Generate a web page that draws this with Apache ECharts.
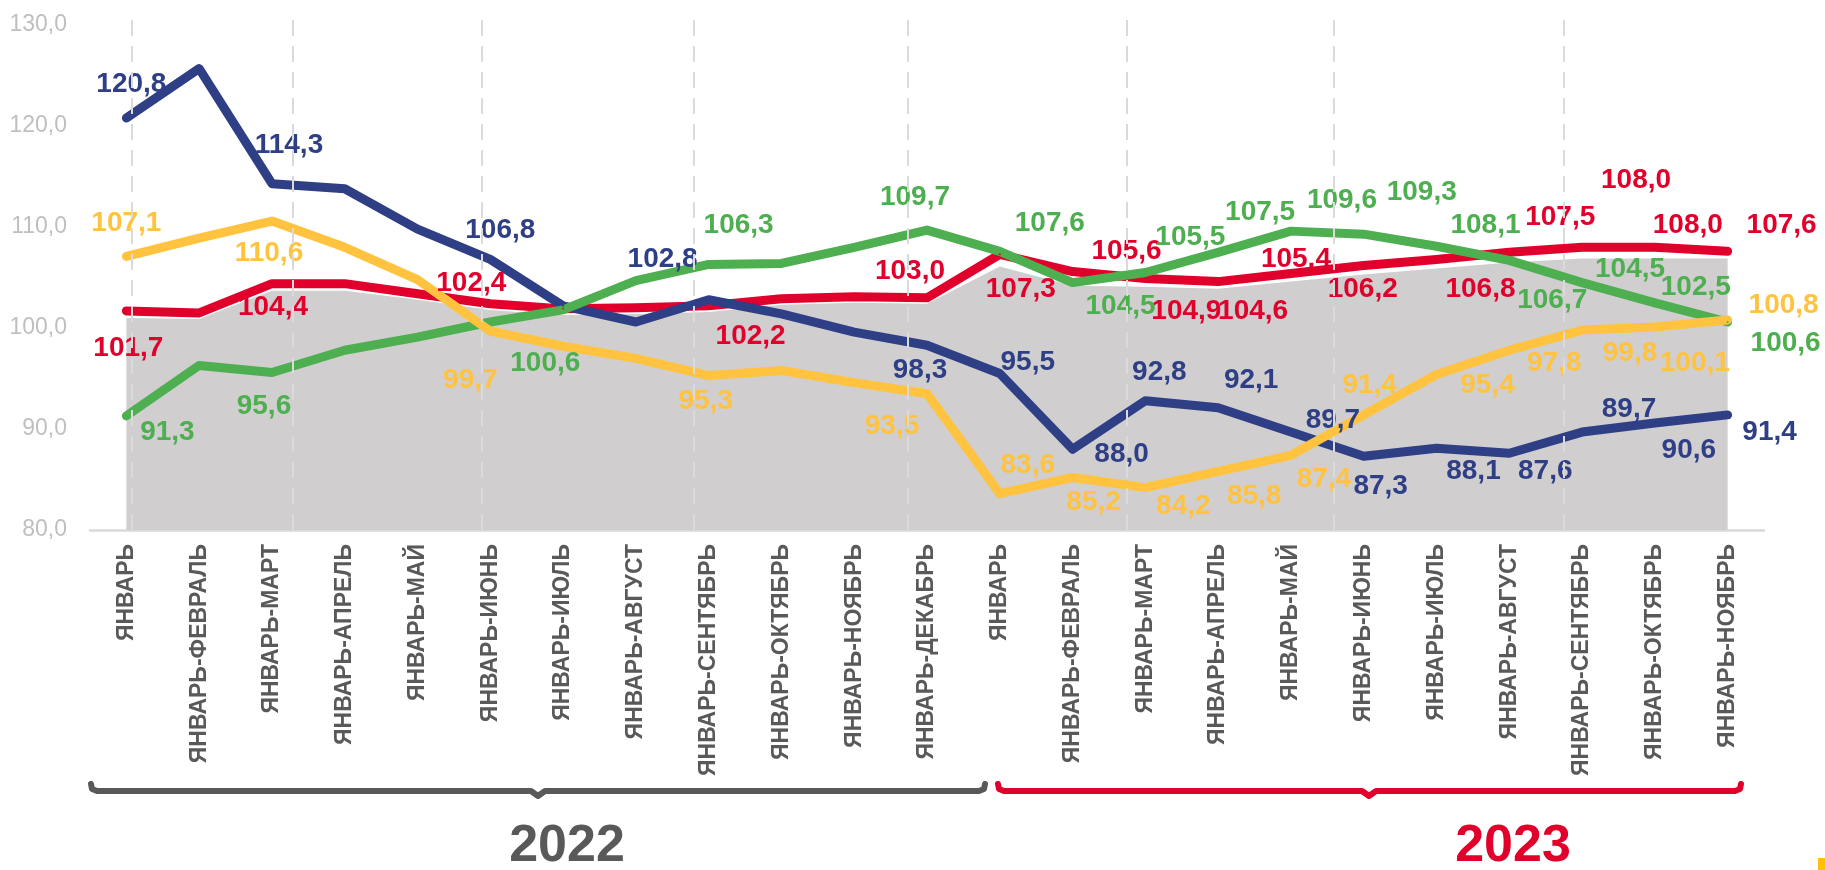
<!DOCTYPE html>
<html>
<head>
<meta charset="utf-8">
<title>chart</title>
<script src="https://cdn.jsdelivr.net/npm/echarts@6/dist/echarts.min.js"></script>
<style>
  html, body { margin: 0; padding: 0; background: #fff; }
  #chart { width: 1825px; height: 870px; }
</style>
</head>
<body>
<div id="chart"></div>
<script>
// categories: 12 periods of 2022 and 11 periods of 2023
const categories = [
  'ЯНВАРЬ', 'ЯНВАРЬ-ФЕВРАЛЬ', 'ЯНВАРЬ-МАРТ', 'ЯНВАРЬ-АПРЕЛЬ', 'ЯНВАРЬ-МАЙ', 'ЯНВАРЬ-ИЮНЬ',
  'ЯНВАРЬ-ИЮЛЬ', 'ЯНВАРЬ-АВГУСТ', 'ЯНВАРЬ-СЕНТЯБРЬ', 'ЯНВАРЬ-ОКТЯБРЬ', 'ЯНВАРЬ-НОЯБРЬ', 'ЯНВАРЬ-ДЕКАБРЬ',
  'ЯНВАРЬ', 'ЯНВАРЬ-ФЕВРАЛЬ', 'ЯНВАРЬ-МАРТ', 'ЯНВАРЬ-АПРЕЛЬ', 'ЯНВАРЬ-МАЙ', 'ЯНВАРЬ-ИЮНЬ',
  'ЯНВАРЬ-ИЮЛЬ', 'ЯНВАРЬ-АВГУСТ', 'ЯНВАРЬ-СЕНТЯБРЬ', 'ЯНВАРЬ-ОКТЯБРЬ', 'ЯНВАРЬ-НОЯБРЬ'
]
const years = ['2022', '2023']
const yTicks = [80, 90, 100, 110, 120, 130]

const grayValues = [101.0, 100.9, 103.7, 103.7, 102.8, 101.8, 101.3, 101.4, 101.6, 102.3, 102.5, 102.4,
  106.1, 104.2, 104.1, 103.9, 104.6, 105.3, 105.9, 106.5, 106.9, 106.9, 106.9]
const redValues = [101.7, 101.5, 104.4, 104.4, 103.4, 102.4, 101.9, 102.0, 102.2, 102.9, 103.1, 103.0,
  107.3, 105.6, 104.9, 104.6, 105.4, 106.2, 106.8, 107.5, 108.0, 108.0, 107.6]
const navyValues = [120.8, 125.7, 114.3, 113.8, 109.8, 106.8, 102.2, 100.6, 102.8, 101.4, 99.6, 98.3,
  95.5, 88.0, 92.8, 92.1, 89.7, 87.3, 88.1, 87.6, 89.7, 90.6, 91.4]
const greenValues = [91.3, 96.3, 95.6, 97.8, 99.1, 100.6, 101.8, 104.7, 106.3, 106.4, 108.0, 109.7,
  107.6, 104.5, 105.5, 107.5, 109.6, 109.3, 108.1, 106.7, 104.5, 102.5, 100.6]
const yellowValues = [107.1, 108.9, 110.6, 108.0, 104.8, 99.7, 98.2, 97.0, 95.3, 95.8, 94.6, 93.5,
  83.6, 85.2, 84.2, 85.8, 87.4, 91.4, 95.4, 97.8, 99.8, 100.1, 100.8]

// label placement (offset of label centre from the point), only labelled points listed
const redLabels = { 0: [2, 37], 2: [1, 24], 5: [-19, -21], 8: [42, 30], 11: [-17, -26], 12: [21, 35], 13: [54, -20],
  14: [41, 33], 15: [35, 30], 16: [5, -14], 17: [-1, 24], 18: [44, 30], 19: [51, -35], 20: [54, -67], 21: [33, -22], 22: [54, -26] }
const navyLabels = { 0: [5, -34], 2: [17, -38], 5: [10, -29], 8: [-46, -41], 11: [-7, 25], 12: [28, -11], 13: [49, 5],
  14: [14, -28], 15: [33, -28], 16: [42, -12], 17: [17, 30], 18: [37, 23], 19: [36, 18], 20: [47, -23], 21: [34, 27], 22: [42, 17] }
const greenLabels = { 0: [41, 16], 2: [-8, 34], 5: [55, 41], 8: [30, -39], 11: [-12, -33], 12: [50, -28], 13: [48, 24],
  14: [45, -35], 15: [42, -40], 16: [51, -31], 17: [58, -42], 18: [49, -21], 19: [43, 40], 20: [48, -13], 21: [41, -16], 22: [58, 21] }
const yellowLabels = { 0: [0, -33], 2: [-3, 32], 5: [-20, 49], 8: [-3, 26], 11: [-35, 33], 12: [28, -28], 13: [21, 25],
  14: [38, 19], 15: [36, 25], 16: [33, 24], 17: [6, -30], 18: [51, 11], 19: [45, 13], 20: [48, 23], 21: [40, 36], 22: [56, -15] }

// dashed guide lines (in category units)
const guideLines = [0.08, 2.29, 4.88, 7.8, 10.74, 13.75, 16.59, 19.75]

const FONT = "'Liberation Sans', Arial, sans-serif"
const fmt = v => v.toFixed(1).replace('.', ',')

function buildData(values, labels) {
  return values.map((v, i) => {
    if (!labels[i]) return v
    return { value: v, label: { show: true, offset: labels[i] } }
  })
}

function lineSeries(name, values, labels, color) {
  return {
    name: name,
    type: 'line',
    z: 3,
    data: buildData(values, labels),
    symbol: 'circle',
    symbolSize: 2,
    showSymbol: true,
    itemStyle: { color: color },
    lineStyle: { color: color, width: 9, cap: 'round', join: 'round' },
    label: {
      show: false,
      position: 'inside',
      color: color,
      fontFamily: FONT,
      fontSize: 28,
      fontWeight: 'bold',
      formatter: p => fmt(p.value)
    },
    emphasis: { disabled: true }
  }
}

// curly bracket under a year
function bracket(x0, x1, xm, y, color) {
  return {
    type: 'polyline',
    shape: {
      points: [
        [x0, y - 7], [x0 + 1, y - 2], [x0 + 6, y],
        [xm - 7, y], [xm, y + 5], [xm + 7, y],
        [x1 - 6, y], [x1 - 1, y - 2], [x1, y - 7]
      ]
    },
    style: { fill: null, stroke: color, lineWidth: 6, lineCap: 'round', lineJoin: 'round' }
  }
}

const chart = echarts.init(document.getElementById('chart'))
chart.setOption({
  animation: false,
  backgroundColor: '#ffffff',
  // top leaves room for the guide lines above the 130 level
  grid: { left: 90, right: 61, top: 10, bottom: 340 },
  xAxis: [
    {
      type: 'category',
      data: categories,
      boundaryGap: true,
      axisLine: { lineStyle: { color: '#d9d9d9', width: 2.5 } },
      axisTick: { show: false },
      axisLabel: {
        interval: 0,
        rotate: 90,
        margin: 14,
        color: '#595959',
        fontFamily: FONT,
        fontSize: 23,
        fontWeight: 'bold'
      }
    },
    {
      type: 'value',
      min: -0.5,
      max: 22.5,
      show: false
    }
  ],
  yAxis: {
    type: 'value',
    min: yTicks[0],
    max: 131.5,
    interval: 10,
    axisLine: { show: false },
    axisTick: { show: false },
    splitLine: { show: false },
    axisLabel: {
      margin: 23,
      color: '#bfbfbf',
      fontFamily: FONT,
      fontSize: 23,
      showMaxLabel: false,
      formatter: v => (yTicks.indexOf(v) >= 0 ? fmt(v) : '')
    }
  },
  series: [
    {
      name: 'area',
      type: 'line',
      z: 1,
      data: grayValues,
      symbol: 'none',
      lineStyle: { width: 0 },
      areaStyle: { color: '#d0cecf', opacity: 1, origin: 'start' },
      silent: true
    },
    {
      name: 'guides',
      type: 'line',
      xAxisIndex: 1,
      z: 2,
      data: [],
      markLine: {
        silent: true,
        symbol: ['none', 'none'],
        label: { show: false },
        lineStyle: { color: '#dadada', width: 2, type: [16, 10] },
        data: guideLines.map(x => ({ xAxis: x }))
      }
    },
    lineSeries('red', redValues, redLabels, '#e1002b'),
    lineSeries('navy', navyValues, navyLabels, '#2f3f86'),
    lineSeries('green', greenValues, greenLabels, '#4daf4f'),
    lineSeries('yellow', yellowValues, yellowLabels, '#ffc33f')
  ],
  graphic: [
    bracket(91, 985, 538, 791, '#595959'),
    bracket(998, 1741, 1369, 791, '#e1002b'),
    {
      type: 'text',
      x: 567, y: 847,
      style: { text: years[0], fill: '#595959', font: 'bold 52px ' + FONT, textAlign: 'center', textVerticalAlign: 'middle' }
    },
    {
      type: 'text',
      x: 1513, y: 847,
      style: { text: years[1], fill: '#e1002b', font: 'bold 52px ' + FONT, textAlign: 'center', textVerticalAlign: 'middle' }
    },
    {
      type: 'rect',
      shape: { x: 1818, y: 858, width: 7, height: 12 },
      style: { fill: '#ffc000' }
    }
  ]
})
</script>
</body>
</html>
